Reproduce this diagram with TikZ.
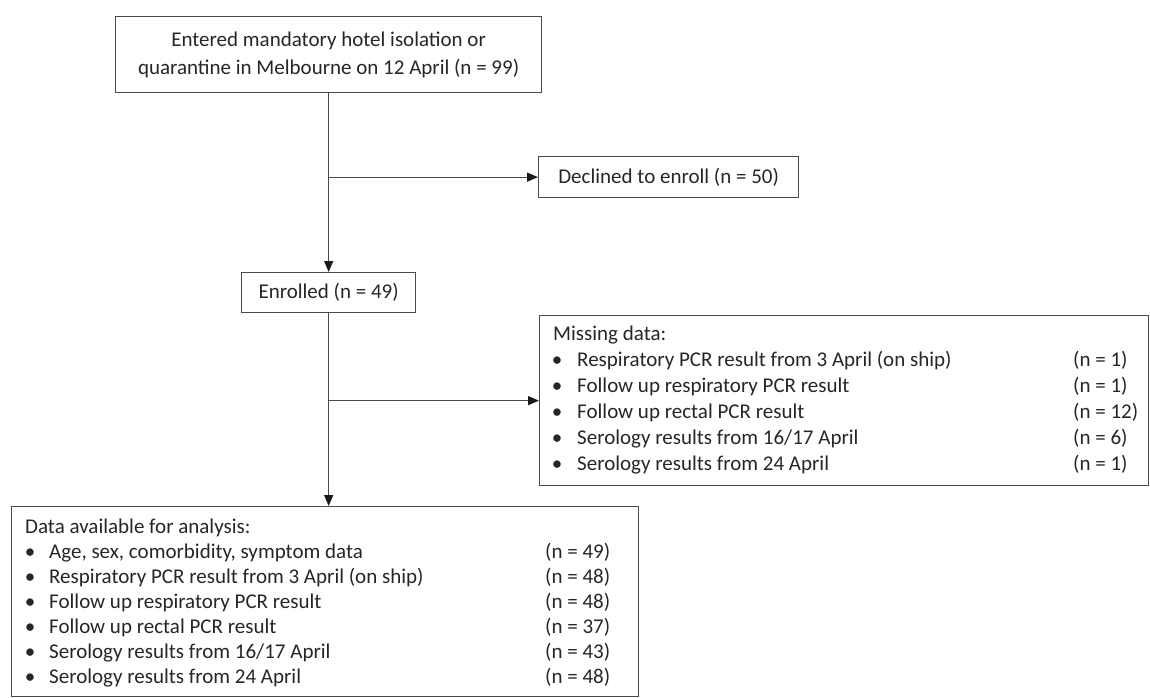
\documentclass[tikz,border=0pt]{standalone}
\usepackage{fontspec}
\setmainfont{Carlito}
\usetikzlibrary{arrows.meta}
\definecolor{linecol}{HTML}{4A4A4A}
\definecolor{txtcol}{HTML}{262626}
\begin{document}
\begin{tikzpicture}[x=1pt,y=-1pt,
  box/.style={draw=linecol, line width=1.3pt, inner sep=0pt, text=txtcol,
    font=\fontsize{21}{28}\selectfont, align=center},
  txt/.style={text=txtcol, inner sep=0pt, font=\fontsize{21}{26}\selectfont,
    text height=15pt, text depth=5pt},
  arr/.style={draw=linecol, line width=1.3pt, -{Triangle[length=11pt,width=9pt,color=black!90]}}
]
\useasboundingbox (0,0) rectangle (1150,698);

% boxes
\node[box, minimum width=426pt, minimum height=76pt, anchor=north west] (top) at (115,16)
  {Entered mandatory hotel isolation or\\quarantine in Melbourne on 12 April (n = 99)};
\node[box, minimum width=260pt, minimum height=41pt, anchor=north west] (dec) at (538,156)
  {Declined to enroll (n = 50)};
\node[box, minimum width=174pt, minimum height=40pt, anchor=north west] (enr) at (241,272)
  {Enrolled (n = 49)};
\node[box, minimum width=609pt, minimum height=170pt, anchor=north west] (miss) at (539,315) {};
\node[box, minimum width=627pt, minimum height=190pt, anchor=north west] (data) at (11,506) {};

% connectors
\draw[arr] (top.south) -- (enr.north);
\coordinate (b1) at (top.south |- dec.west);
\draw[arr] (b1) -- (dec.west);
\draw[arr] (enr.south) -- (enr.south |- data.north);
\coordinate (b2) at (enr.south |- miss.west);
\draw[arr] (b2) -- (miss.west);

% missing data list
\node[txt, anchor=west] (mt) at (553,335) {Missing data:};
\foreach \y/\t/\n [count=\i] in {
  361/{Respiratory PCR result from 3 April (on ship)}/{(n = 1)},
  387/{Follow up respiratory PCR result}/{(n = 1)},
  413/{Follow up rectal PCR result}/{(n = 12)},
  439/{Serology results from 16/17 April}/{(n = 6)},
  465/{Serology results from 24 April}/{(n = 1)}} {
  \node[txt] (mb\i) at (557,\y) {\textbullet};
  \node[txt, anchor=west] (ml\i) at (577,\y) {\t};
  \node[txt, anchor=west] (mn\i) at (1073,\y) {\n};
}

% data available list
\node[txt, anchor=west] (dt) at (25,528) {Data available for analysis:};
\foreach \y/\t/\n [count=\i] in {
  553/{Age, sex, comorbidity, symptom data}/{(n = 49)},
  578/{Respiratory PCR result from 3 April (on ship)}/{(n = 48)},
  603/{Follow up respiratory PCR result}/{(n = 48)},
  628/{Follow up rectal PCR result}/{(n = 37)},
  653/{Serology results from 16/17 April}/{(n = 43)},
  678/{Serology results from 24 April}/{(n = 48)}} {
  \node[txt] (db\i) at (30,\y) {\textbullet};
  \node[txt, anchor=west] (dl\i) at (49,\y) {\t};
  \node[txt, anchor=west] (dn\i) at (545,\y) {\n};
}
\end{tikzpicture}
\end{document}
